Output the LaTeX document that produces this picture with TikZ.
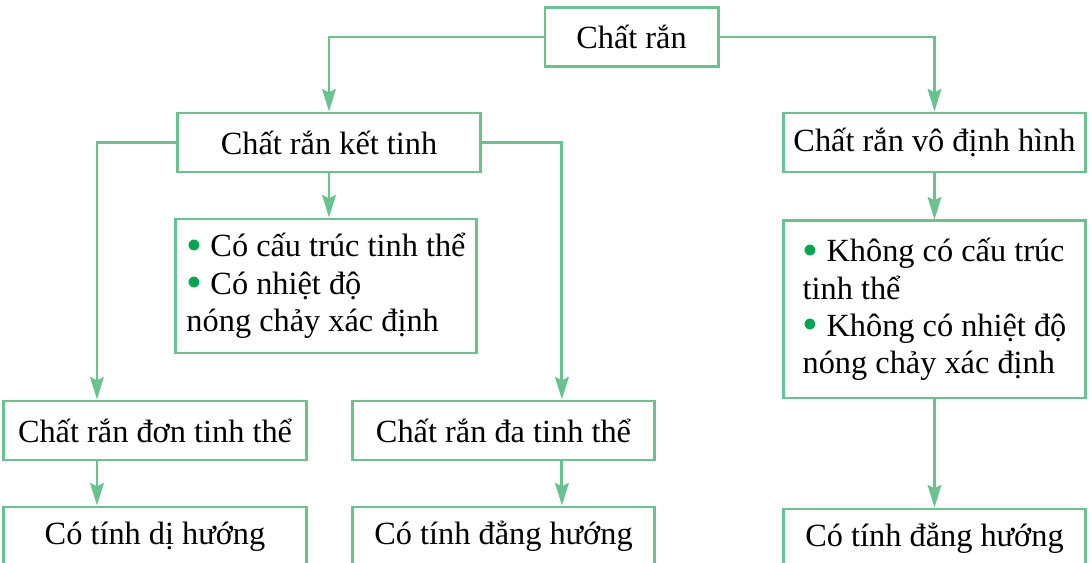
\documentclass[tikz,border=0pt]{standalone}
\usepackage{fontspec}
\setmainfont{Liberation Serif}
\usetikzlibrary{positioning,arrows.meta,calc}
\definecolor{linegreen}{RGB}{104,195,142}
\definecolor{dotgreen}{RGB}{0,166,81}
\newcommand{\dotmark}{\textcolor{dotgreen}{\raisebox{-0.1em}{\scalebox{1.4}{\textbullet}}}}

\begin{document}
\begin{tikzpicture}[
      x=0.025cm, y=-0.025cm,
      font=\fontsize{23}{26.5}\selectfont,
      box/.style={draw=linegreen, line width=2.1pt, align=center, inner sep=0pt, minimum width=7.55cm, minimum height=1.475cm},
      infobox/.style={box, align=left},
      arr/.style={-{Stealth[length=0.56cm, width=0.34cm, inset=0.08cm]}, draw=linegreen, line width=2.1pt},
    ]
    \useasboundingbox (0,0) rectangle (1092,563);

    \node[box, minimum width=4.325cm] (root) at (631.5,37) {Chất rắn};
    \node[box] (kt) at (329,142.5) {Chất rắn kết tinh};
    \node[box, minimum width=7.525cm] (vdh) at (934.5,142.5) {Chất rắn vô định hình};

    \node[infobox, minimum width=7.5cm, minimum height=3.35cm] (ktinfo) at (326,286)
      {\dotmark{} Có cấu trúc tinh thể\\ \dotmark{} Có nhiệt độ\\ nóng chảy xác định};
    \node[infobox, minimum width=7.525cm, minimum height=4.425cm] (vdhinfo) at (934.5,309.5)
      {\dotmark{} Không có cấu trúc\\ tinh thể\\ \dotmark{} Không có nhiệt độ\\ nóng chảy xác định};

    \node[box] (don) at (155,430.5) {Chất rắn đơn tinh thể};
    \node[box] (da) at (503.5,430.5) {Chất rắn đa tinh thể};

    \node[box] (dih) at (155,536.5) {Có tính dị hướng};
    \node[box] (dh1) at (503.5,536.5) {Có tính đẳng hướng};
    \node[box, minimum width=7.525cm] (dh2) at (934.5,538.5) {Có tính đẳng hướng};

    % side entries of the two lower branches
    \coordinate (donin) at ([xshift=-1.45cm]don.north);
    \coordinate (dain) at ([xshift=1.46cm]da.north);

    \draw[arr] (root.west) -| (kt.north);
    \draw[arr] (root.east) -| (vdh.north);
    \draw[arr] (kt.south) -- (kt.south |- ktinfo.north);
    \draw[arr] (vdh.south) -- (vdhinfo.north);
    \draw[arr] (vdhinfo.south) -- (dh2.north);

    \draw[arr] (kt.west) -| (donin);
    \draw[arr] (kt.east) -| (dain);
    \draw[arr] (don.south -| donin) -- (dih.north -| donin);
    \draw[arr] (da.south -| dain) -- (dh1.north -| dain);
\end{tikzpicture}
\end{document}
